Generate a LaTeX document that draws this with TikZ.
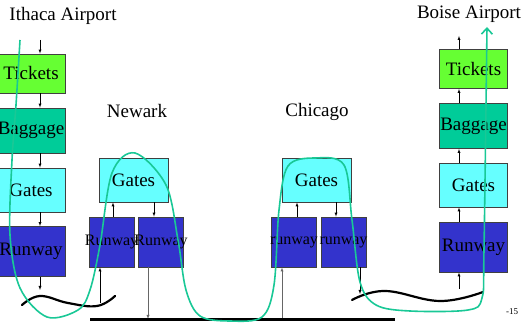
\documentclass[tikz,border=0pt]{standalone}
\usepackage{fontspec}
\setmainfont{Liberation Serif}
\usepackage{tikz}
\usetikzlibrary{arrows.meta}

\definecolor{ticketcol}{RGB}{102,255,51}
\definecolor{baggagecol}{RGB}{0,204,153}
\definecolor{gatecol}{RGB}{102,255,255}
\definecolor{runwaycol}{RGB}{51,51,204}
\definecolor{routecol}{RGB}{25,200,150}

\newcommand{\overtext}[1]{\makebox[0pt]{#1}}

\begin{document}
\begin{tikzpicture}[x=1pt,y=-1pt,>=latex,
  every node/.style={inner sep=0pt},
  layer/.style={draw=black!75,line width=0.8pt,minimum width=68pt,
    font=\fontsize{19}{22}\selectfont},
  tickets/.style={layer,fill=ticketcol,minimum height=39pt},
  baggage/.style={layer,fill=baggagecol,minimum height=45pt},
  gates/.style={layer,fill=gatecol,minimum height=44pt},
  runway/.style={layer,fill=runwaycol,minimum height=50pt},
  smallrunway/.style={runway,minimum width=45pt,
    font=\fontsize{16}{19}\selectfont},
  place/.style={font=\fontsize{19}{22}\selectfont},
  wire/.style={line width=2.2pt,line cap=round},
  route/.style={draw=routecol,line width=1.6pt}]
\useasboundingbox (0,0) rectangle (523,323);

% Ithaca
\node[place] (ithaca) at (63,16) {Ithaca Airport};
\node[tickets] (ithtickets) at (31,73.5) {Tickets};
\node[baggage] (ithbaggage) at (31,130.5) {Baggage};
\node[gates] (ithgates) at (31,190) {Gates};
\node[runway] (ithrunway) at (31,251.5) {Runway};
\coordinate (ithin) at (40,40);
\coordinate (ithout) at (40,290);
\draw[->] (ithin) -- (ithin |- ithtickets.north);
\draw[->] (ithtickets.south -| ithin) -- (ithbaggage.north -| ithin);
\draw[->] (ithbaggage.south -| ithin) -- (ithgates.north -| ithin);
\draw[->] (ithgates.south -| ithin) -- (ithrunway.north -| ithin);
\draw[->] (ithrunway.south -| ithin) -- (ithout);

% Newark
\node[place] (newark) at (137,111) {Newark};
\node[gates,minimum width=69pt] (newgates) at (133.5,180) {Gates};
\node[smallrunway] (newrunone) at (111.5,242) {\overtext{Runway}};
\node[smallrunway] (newruntwo) at (161,242) {\overtext{Runway}};
\coordinate (newin) at (100,303);
\coordinate (newup) at (113,0);
\coordinate (newdown) at (154,0);
\coordinate (newout) at (148,319);
\draw[->] (newin) -- (newin |- newrunone.south);
\draw[->] (newrunone.north -| newup) -- (newgates.south -| newup);
\draw[->] (newgates.south -| newdown) -- (newruntwo.north -| newdown);
\draw[->,black!60] (newruntwo.south -| newout) -- (newout);

% Chicago
\node[place] (chicago) at (317,112) {Chicago};
\node[gates,minimum width=69pt] (chigates) at (316.5,180) {Gates};
\node[smallrunway] (chirunone) at (294,242) {\overtext{runway}};
\node[smallrunway] (chiruntwo) at (343.5,242) {\overtext{runway}};
\coordinate (chiin) at (282,320);
\coordinate (chiup) at (297,0);
\coordinate (chidown) at (336,0);
\coordinate (chiout) at (360,294);
\draw[->,black!60] (chiin) -- (chiin |- chirunone.south);
\draw[->] (chirunone.north -| chiup) -- (chigates.south -| chiup);
\draw[->] (chigates.south -| chidown) -- (chiruntwo.north -| chidown);
\draw[->] (chiruntwo.south -| chiout) -- (chiout);

% Boise
\node[place] (boise) at (469,14) {Boise Airport};
\node[tickets] (boitickets) at (473.5,69) {Tickets};
\node[baggage] (boibaggage) at (473.5,126) {Baggage};
\node[gates] (boigates) at (473.5,185) {Gates};
\node[runway] (boirunway) at (473.5,247) {Runway};
\coordinate (boiin) at (459,289);
\coordinate (boiout) at (459,36);
\draw[->] (boiin) -- (boiin |- boirunway.south);
\draw[->] (boirunway.north -| boiin) -- (boigates.south -| boiin);
\draw[->] (boigates.north -| boiin) -- (boibaggage.south -| boiin);
\draw[->] (boibaggage.north -| boiin) -- (boitickets.south -| boiin);
\draw[->] (boitickets.north -| boiin) -- (boiout);

% links and ground
\draw[wire] plot[smooth,tension=0.7] coordinates
  {(22,305) (40,296) (68,303) (97,306) (115,296)};
\draw[wire] plot[smooth,tension=0.7] coordinates
  {(352,300) (385,291) (440,301) (483,292)};
\draw[line width=3pt] (90,320) -- (395,320);

% route of the packet
\draw[route,-{Straight Barb[length=6pt,width=11pt]}] plot[smooth,tension=0.55] coordinates
  {(20,40) (16,105) (12,160) (10,235) (20,288) (47,317) (78,310) (90,290)
   (100,245) (112,173) (135,153) (166,185) (178,240) (186,290) (200,316)
   (230,321) (262,317) (274,285) (279,210) (288,166) (315,158) (344,165)
   (352,220) (360,282) (376,305) (410,311) (468,310) (482,298) (484,250)
   (487,27)};

\node[font=\fontsize{9}{10}\selectfont] (pagenum) at (512,312) {-15};
\end{tikzpicture}
\end{document}
